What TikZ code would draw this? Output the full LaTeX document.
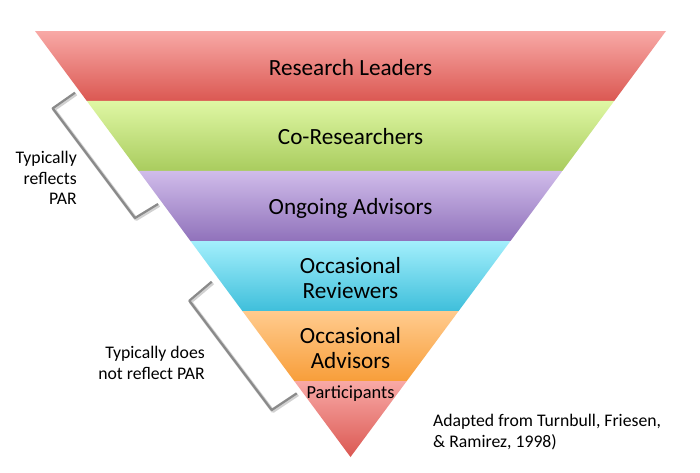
\documentclass[tikz,border=0pt]{standalone}
\usepackage{fontspec}
\setmainfont{Carlito}
\usetikzlibrary{calc}

\definecolor{redtop}{HTML}{F8A9A6}
\definecolor{redbot}{HTML}{DB5852}
\definecolor{greentop}{HTML}{DFF7A4}
\definecolor{greenbot}{HTML}{A9CC5E}
\definecolor{purpletop}{HTML}{D0BCEA}
\definecolor{purplebot}{HTML}{9072BB}
\definecolor{cyantop}{HTML}{A3EFFC}
\definecolor{cyanbot}{HTML}{3FBFDB}
\definecolor{orangetop}{HTML}{FFCB8E}
\definecolor{orangebot}{HTML}{F89E3A}
\definecolor{bracketgray}{HTML}{8A8A8A}

\tikzset{
  bandlabel/.style={font=\fontsize{23.2}{25}\selectfont, align=center, inner sep=0pt},
  sidelabel/.style={font=\fontsize{17.7}{20.5}\selectfont, inner sep=0pt},
  bracket/.style={draw=bracketgray, line width=2.2pt, line join=round},
  bracketshadow/.style={draw=black!18, line width=3.5pt, line join=round}
}

\begin{document}
\begin{tikzpicture}[x=1pt,y=-1pt]
		\useasboundingbox[fill=white] (0,0) rectangle (700,472);
		%corners of the funnel
		\coordinate (A) at (35,31);
		\coordinate (B) at (666,31);
		\coordinate (C) at (350.5,457);
		%bands, top to bottom
		\foreach \ta/\tb/\ctop/\cbot in {0/0.1643/redtop/redbot,
				0.1643/0.3286/greentop/greenbot,
				0.3286/0.4930/purpletop/purplebot,
				0.4930/0.6573/cyantop/cyanbot,
				0.6573/0.8216/orangetop/orangebot,
				0.8216/1/redtop/redbot}
			\shade[top color=\ctop, bottom color=\cbot]
				($(A)!\ta!(C)$) -- ($(B)!\ta!(C)$) -- ($(B)!\tb!(C)$) -- ($(A)!\tb!(C)$) -- cycle;
		%band labels
		\node[bandlabel] (leaders) at (350.5,68) {Research Leaders};
		\node[bandlabel] (coresearch) at (350.5,137) {Co-Researchers};
		\node[bandlabel] (ongoing) at (350.5,208) {Ongoing Advisors};
		\node[bandlabel] (reviewers) at (350.5,278) {Occasional\\Reviewers};
		\node[bandlabel] (occadvisors) at (350.5,348) {Occasional\\Advisors};
		\node[bandlabel, font=\fontsize{18.4}{20}\selectfont] (participants) at (350.5,394) {Participants};
		%upper bracket
		\coordinate (ua) at (75,92.7);
		\coordinate (ub) at (52.7,108.3);
		\coordinate (uc) at (135,218);
		\coordinate (ud) at (158,204);
		\draw[bracketshadow] ([shift={(1.2,1.2)}]ua) -- ([shift={(1.2,1.2)}]ub) -- ([shift={(1.2,1.2)}]uc) -- ([shift={(1.2,1.2)}]ud);
		\draw[bracket] (ua) -- (ub) -- (uc) -- (ud);
		%lower bracket
		\coordinate (la) at (211.7,281.7);
		\coordinate (lb) at (189.3,300.7);
		\coordinate (lc) at (271.7,410);
		\coordinate (ld) at (296.7,393.3);
		\draw[bracketshadow] ([shift={(1.2,1.2)}]la) -- ([shift={(1.2,1.2)}]lb) -- ([shift={(1.2,1.2)}]lc) -- ([shift={(1.2,1.2)}]ld);
		\draw[bracket] (la) -- (lb) -- (lc) -- (ld);
		%side notes
		\node[sidelabel, align=right, anchor=east] (reflects) at (77,178) {Typically\\reflects\\PAR};
		\node[sidelabel, align=right, anchor=east] (notreflects) at (205,363) {Typically does\\not reflect PAR};
		\node[sidelabel, align=left, anchor=west] (source) at (433,432) {Adapted from Turnbull, Friesen,\\\& Ramirez, 1998)};
	\end{tikzpicture}
\end{document}
